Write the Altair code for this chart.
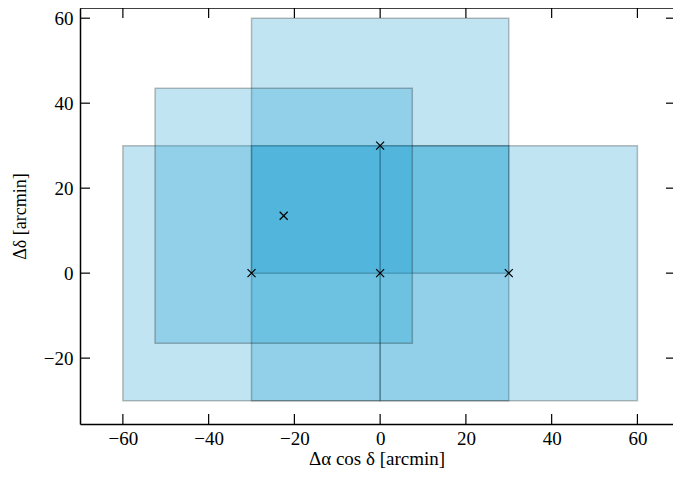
import altair as alt
import pandas as pd

# field centres (arcmin) and field size
center_x = [-30.0, 0.0, 0.0, 30.0, -22.5]
center_y = [0.0, 0.0, 30.0, 0.0, 13.5]
field_size = 60.0

x_ticks = [-60, -40, -20, 0, 20, 40, 60]
y_ticks = [-20, 0, 20, 40, 60]

x_domain = [-70, 68.3]
y_domain = [-35.5, 62.4]

W, H = 593, 416
FONT = "Liberation Serif"
FILL = "#0393cb"

half = field_size / 2
rects_df = pd.DataFrame({
    "x0": [c - half for c in center_x],
    "x1": [c + half for c in center_x],
    "y0": [c - half for c in center_y],
    "y1": [c + half for c in center_y],
})
centers_df = pd.DataFrame({"xc": center_x, "yc": center_y})
xt_df = pd.DataFrame({"v": x_ticks})
yt_df = pd.DataFrame({"v": y_ticks})
one = pd.DataFrame({"a": [0]})

xs = alt.Scale(domain=x_domain, nice=False, zero=False)
ys = alt.Scale(domain=y_domain, nice=False, zero=False)

x_axis = alt.Axis(values=x_ticks, ticks=False, grid=False, domain=True,
                  domainColor="black", domainWidth=1.5, labelFont=FONT,
                  labelFontSize=19, labelColor="black", labelPadding=5,
                  title="Δα  cos δ [arcmin]", titleFont=FONT, titleFontSize=19,
                  titleFontWeight="normal", titleColor="black",
                  titleBaseline="alphabetic", titleY=40)
y_axis = alt.Axis(values=y_ticks, ticks=False, grid=False, domain=True,
                  domainColor="black", domainWidth=1.5, labelFont=FONT,
                  labelFontSize=19, labelColor="black", labelPadding=7,
                  title="Δδ [arcmin]", titleFont=FONT, titleFontSize=18,
                  titleFontWeight="normal", titleColor="black", titlePadding=14)

rects = alt.Chart(rects_df).mark_rect(
    fill=FILL, fillOpacity=0.25, stroke="black", strokeOpacity=0.25,
    strokeWidth=1.5, clip=True
).encode(
    x=alt.X("x0:Q", scale=xs, axis=x_axis),
    x2="x1:Q",
    y=alt.Y("y0:Q", scale=ys, axis=y_axis),
    y2="y1:Q",
)

points = alt.Chart(centers_df).mark_point(
    shape="M-1,-1L1,1M-1,1L1,-1", size=64, stroke="black", strokeWidth=1.2,
    filled=False, opacity=1
).encode(x=alt.X("xc:Q", scale=xs), y=alt.Y("yc:Q", scale=ys))

tick_len = 10
bottom_ticks = alt.Chart(xt_df).mark_rule(color="black", strokeWidth=1.2).encode(
    x=alt.X("v:Q", scale=xs), y=alt.value(H), y2=alt.value(H - tick_len))
top_ticks = alt.Chart(xt_df).mark_rule(color="black", strokeWidth=1.2).encode(
    x=alt.X("v:Q", scale=xs), y=alt.value(0), y2=alt.value(tick_len))
left_ticks = alt.Chart(yt_df).mark_rule(color="black", strokeWidth=1.2).encode(
    y=alt.Y("v:Q", scale=ys), x=alt.value(0), x2=alt.value(tick_len))
right_ticks = alt.Chart(yt_df).mark_rule(color="black", strokeWidth=1.2).encode(
    y=alt.Y("v:Q", scale=ys), x=alt.value(W), x2=alt.value(W - 7))
top_spine = alt.Chart(one).mark_rule(color="black", strokeWidth=1.5).encode(
    x=alt.value(0), x2=alt.value(W), y=alt.value(0))

chart = alt.layer(
    rects, points, bottom_ticks, top_ticks, left_ticks, right_ticks, top_spine
).properties(
    width=W, height=H,
    autosize=alt.AutoSizeParams(type="none"),
    padding={"left": 72, "top": 0, "right": 0, "bottom": 44},
).configure_view(stroke=None)

chart.save("out.html", embed_options={"renderer": "svg", "actions": False})
